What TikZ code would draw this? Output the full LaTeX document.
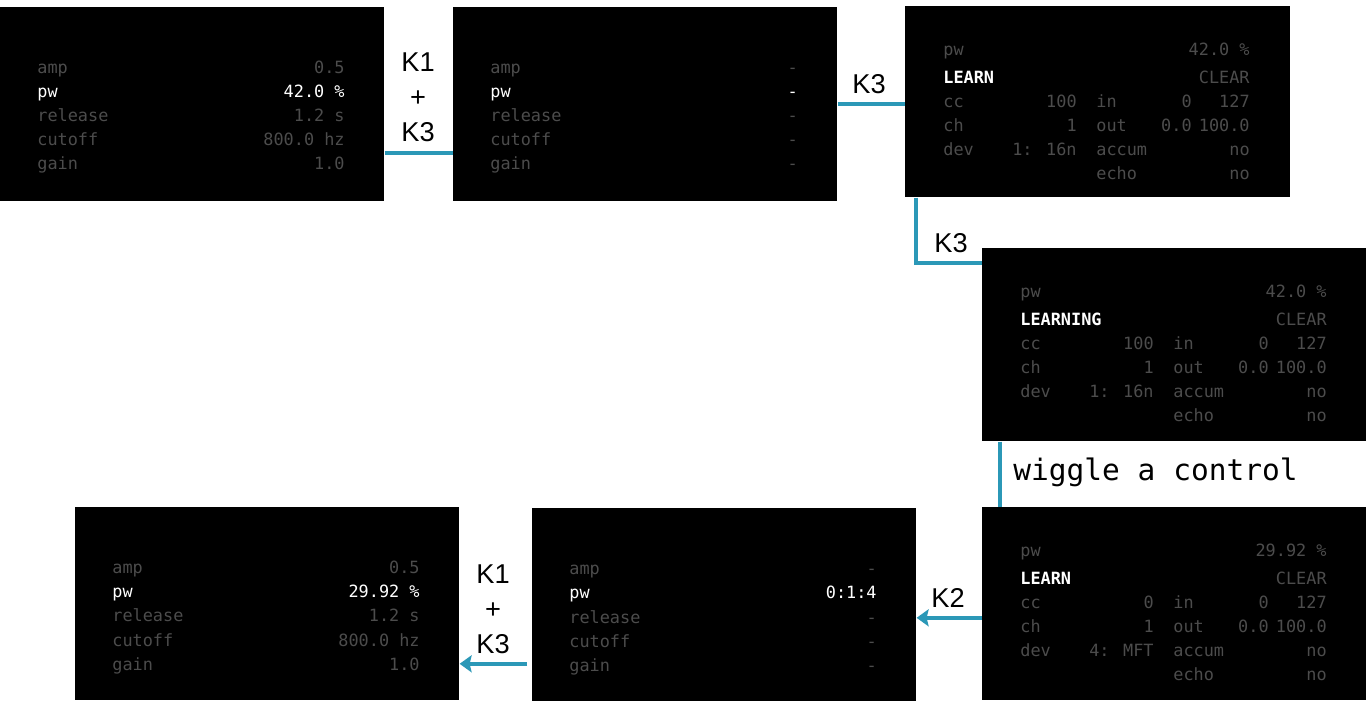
\documentclass[tikz,border=0pt]{standalone}
\usepackage{fontspec}
\setmainfont{Liberation Sans}
\newfontfamily\scrfont{DejaVu Sans Mono}
\newfontfamily\codefont{DejaVu Sans Mono}
\usepackage{tikz}
\usetikzlibrary{arrows.meta}
\definecolor{linkblue}{RGB}{43,152,183}
\definecolor{scrgray}{RGB}{76,76,76}
% menu page: screen, amp, pw, release, cutoff, gain
\newcommand\menuscreen[6]{%
	\begin{scope}[shift={(#1.north west)}]
	\foreach \r/\k/\v in {1/amp/{#2}, 3/release/{#4}, 4/cutoff/{#5}, 5/gain/{#6}}{
		\node[scrdim, anchor=base west] (#1-k\r) at (37,{43+24*\r}) {\k};
		\node[scrdim, anchor=base east] (#1-v\r) at (345,{43+24*\r}) {\v};
	}
	\node[scrlit, anchor=base west] (#1-k2) at (37,91) {pw};
	\node[scrlit, anchor=base east] (#1-v2) at (345,91) {#3};
	\end{scope}}
% learn page: screen, pw value, mode, cc, dev
\newcommand\learnscreen[5]{%
	\begin{scope}[shift={(#1.north west)}]
	\node[scrdim, anchor=base west] (#1-pw) at (38,50) {pw};
	\node[scrdim, anchor=base east] (#1-pwv) at (345,50) {#2};
	\node[scrbold, anchor=base west] (#1-mode) at (38,78) {#3};
	\node[scrdim, anchor=base east] (#1-clr) at (345,78) {CLEAR};
	\foreach \a/\b/\c/\d/\e [count=\i from 3] in {cc/{#4}/in/0/127, ch/1/out/0.0/100.0, dev/{#5}/accum/{}/no, {}/{}/echo/{}/no}{
		\node[scrdim, anchor=base west] (#1-a\i) at (38,{30+24*\i}) {\a};
		\node[scrdim, anchor=base east] (#1-b\i) at (172,{30+24*\i}) {\b};
		\node[scrdim, anchor=base west] (#1-c\i) at (191,{30+24*\i}) {\c};
		\node[scrdim, anchor=base east] (#1-d\i) at (287,{30+24*\i}) {\d};
		\node[scrdim, anchor=base east] (#1-e\i) at (345,{30+24*\i}) {\e};
	}
	\end{scope}}

\begin{document}
\begin{tikzpicture}[x=0.02cm, y=-0.02cm,
	screen/.style={fill=black, minimum width=7.68cm, minimum height=3.86cm, anchor=north west, inner sep=0pt},
	scrdim/.style={text=scrgray, font=\scrfont\fontsize{9.6}{11}\selectfont, inner sep=0pt},
	scrlit/.style={text=white, font=\scrfont\fontsize{9.6}{11}\selectfont, inner sep=0pt},
	scrbold/.style={text=white, font=\scrfont\bfseries\fontsize{9.6}{11}\selectfont, inner sep=0pt},
	link/.style={draw=linkblue, line width=2.2pt},
	push/.style={link, -{Stealth[length=0.24cm, width=0.34cm, inset=0.04cm]}},
	key/.style={font=\fontsize{15.5}{20}\selectfont, align=center, inner sep=0pt}]
	\fill[white] (0,0) rectangle (1367,702);

	%SCREENS
	\node[screen, minimum height=3.88cm] (A) at (0,7) {};		%params
	\node[screen, minimum height=3.88cm] (B) at (453,7) {};		%params, map mode
	\node[screen, minimum width=7.7cm, minimum height=3.82cm] (C) at (905,6) {};	%learn
	\node[screen] (D) at (982,248) {};		%learning
	\node[screen] (E) at (982,507) {};		%learned
	\node[screen] (F) at (532,508) {};		%map mode
	\node[screen] (G) at (75,507) {};		%params again

	\menuscreen{A}{0.5}{42.0 \%}{1.2 s}{800.0 hz}{1.0}
	\menuscreen{B}{-}{-}{-}{-}{-}
	\learnscreen{C}{42.0 \%}{LEARN}{100}{1: 16n}
	\learnscreen{D}{42.0 \%}{LEARNING}{100}{1: 16n}
	\learnscreen{E}{29.92 \%}{LEARN}{0}{4: MFT}
	\menuscreen{F}{-}{0:1:4}{-}{-}{-}
	\menuscreen{G}{0.5}{29.92 \%}{1.2 s}{800.0 hz}{1.0}

	%CONNECTORS
	\draw[link] ([yshift=-0.98cm]A.east) -- ([yshift=-0.98cm]B.west);
	\draw[link] (B.east) -- (B.east -| C.west);
	\draw[link] ([xshift=0.22cm]C.south west) |- ([yshift=-0.3cm]D.north west);
	\draw[link] ([xshift=0.36cm]D.south west) -- ([xshift=0.36cm]E.north west);
	\coordinate (ef) at ([yshift=-0.28cm]E.west);
	\draw[push] (ef) -- (ef -| F.east);
	\coordinate (fg) at ([xshift=-0.1cm, yshift=-1.18cm]F.west);
	\draw[push] (fg) -- (fg -| G.east);

	%LABELS
	\node[key] (kAB) at (418,97) {K1\\+\\K3};
	\node[key] (kBC) at (869,84) {K3};
	\node[key] (kCD) at (951,243) {K3};
	\node[anchor=base west, font=\codefont\fontsize{16.8}{20}\selectfont, inner sep=0pt] (kDE) at (1013,481) {wiggle a control};
	\node[key] (kEF) at (948,598) {K2};
	\node[key] (kFG) at (493,609) {K1\\+\\K3};
\end{tikzpicture}
\end{document}
